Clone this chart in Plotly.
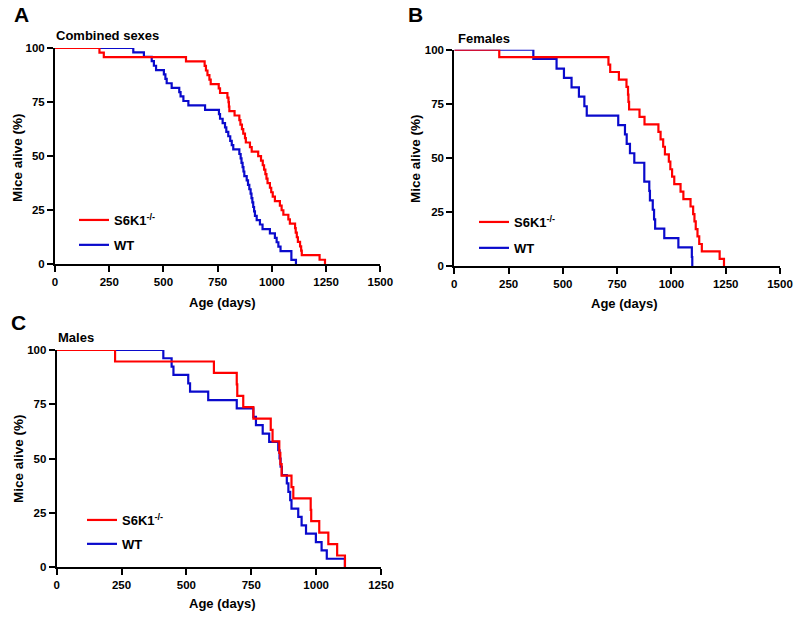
import plotly.graph_objects as go

# ---------------- data (age in days, % alive after each step) ----------------
comb_ko_age = [0, 205, 225, 604, 690, 696, 703, 712, 718, 755, 761, 795, 800, 802, 804, 828,
               850, 855, 862, 868, 876, 880, 899, 907, 937, 950, 958, 964, 970, 975, 980,
               991, 997, 1004, 1014, 1037, 1045, 1053, 1076, 1083, 1107, 1110, 1115, 1120,
               1130, 1135, 1138, 1220, 1245]
comb_ko_pct = [100, 97.9, 95.8, 93.8, 91.7, 89.6, 87.5, 85.4, 83.3, 81.3, 79.2, 77.1, 75.0,
               72.9, 70.8, 68.8, 66.7, 64.6, 62.5, 60.4, 58.3, 56.3, 54.2, 52.1, 50.0, 47.9,
               45.8, 43.8, 41.7, 39.6, 37.5, 35.4, 33.3, 31.3, 29.2, 27.1, 25.0, 22.9, 20.8,
               18.8, 16.7, 14.6, 12.5, 10.4, 8.3, 6.3, 4.2, 2.1, 0]
comb_wt_age = [0, 361, 410, 446, 456, 466, 502, 509, 515, 538, 573, 579, 592, 615, 692, 756,
               761, 773, 784, 790, 799, 808, 815, 822, 850, 856, 860, 865, 869, 873, 884,
               890, 896, 902, 906, 910, 914, 918, 922, 930, 945, 957, 991, 1014, 1022, 1030,
               1040, 1090, 1090, 1111]
comb_wt_pct = [100, 98.0, 95.9, 93.9, 91.8, 89.8, 87.8, 85.7, 83.7, 81.6, 79.6, 77.6, 75.5,
               73.5, 71.4, 69.4, 67.3, 65.3, 63.3, 61.2, 59.2, 57.1, 55.1, 53.1, 51.0, 49.0,
               46.9, 44.9, 42.9, 40.8, 38.8, 36.7, 34.7, 32.7, 30.6, 28.6, 26.5, 24.5, 22.4,
               20.4, 18.4, 16.3, 14.3, 12.2, 10.2, 8.2, 6.1, 4.1, 2.0, 0]

fem_ko_age = [0, 207, 710, 718, 758, 793, 800, 802, 805, 853, 876, 940, 950, 962, 970, 988,
              995, 1003, 1013, 1042, 1055, 1088, 1100, 1106, 1112, 1120, 1128, 1140, 1222, 1242]
fem_ko_pct = [100, 96.6, 93.1, 89.7, 86.2, 82.8, 79.3, 75.9, 72.4, 69.0, 65.5, 62.1, 58.6,
              55.2, 51.7, 48.3, 44.8, 41.4, 37.9, 34.5, 31.0, 27.6, 24.1, 20.7, 17.2, 13.8,
              10.3, 6.9, 3.4, 0]
fem_wt_age = [0, 364, 471, 505, 540, 574, 599, 610, 755, 786, 794, 809, 829, 875, 875, 898,
              901, 914, 920, 925, 967, 1032, 1094, 1096]
fem_wt_pct = [100, 95.7, 91.3, 87.0, 82.6, 78.3, 73.9, 69.6, 65.2, 60.9, 56.5, 52.2, 47.8,
              43.5, 39.1, 34.8, 30.4, 26.1, 21.7, 17.4, 13.0, 8.7, 4.3, 0]

male_ko_age = [0, 225, 606, 694, 696, 719, 758, 825, 832, 858, 862, 867, 905, 912, 979, 981,
               1012, 1047, 1081, 1111]
male_ko_pct = [100, 94.7, 89.5, 84.2, 78.9, 73.7, 68.4, 63.2, 57.9, 52.6, 47.4, 42.1, 36.8,
               31.6, 26.3, 21.1, 15.8, 10.5, 5.3, 0]
male_wt_age = [0, 411, 443, 450, 507, 514, 584, 694, 758, 768, 794, 819, 854, 859, 863, 868,
               887, 893, 900, 905, 931, 944, 961, 999, 1021, 1041, 1111]
male_wt_pct = [100, 96.2, 92.3, 88.5, 84.6, 80.8, 76.9, 73.1, 69.2, 65.4, 61.5, 57.7, 53.8,
               50.0, 46.2, 42.3, 38.5, 34.6, 30.8, 26.9, 23.1, 19.2, 15.4, 11.5, 7.7, 3.8, 0]

panel_titles = ["Combined sexes", "Females", "Males"]
panel_letters = ["A", "B", "C"]
series_names = ["S6K1<sup>-/-</sup>", "WT"]
y_ticks = [0, 25, 50, 75, 100]
x_ticks_ab = [0, 250, 500, 750, 1000, 1250, 1500]
x_ticks_c = [0, 250, 500, 750, 1000, 1250]

RED = "#FF0000"
BLUE = "#0A0ACC"
FONT = "Liberation Sans, Arial, sans-serif"
W, H = 800, 618


def px(x):
    return x / W


def py(y):
    return 1 - y / H


fig = go.Figure()

# panel pixel boxes: (left, right, top, bottom)
boxes = [(55, 380.3, 48, 264.3), (454.3, 780, 49.7, 266.3), (56.7, 381, 350, 567)]
datasets = [
    (comb_ko_age, comb_ko_pct, comb_wt_age, comb_wt_pct),
    (fem_ko_age, fem_ko_pct, fem_wt_age, fem_wt_pct),
    (male_ko_age, male_ko_pct, male_wt_age, male_wt_pct),
]
xranges = [[0, 1500], [0, 1500], [0, 1250]]
xtickss = [x_ticks_ab, x_ticks_ab, x_ticks_c]
legend_pos = [(74, 205), (474, 207), (82, 505)]
legend_gaps = [5, 6, 4]

for i, (box, data) in enumerate(zip(boxes, datasets)):
    l, r, t, b = box
    suffix = "" if i == 0 else str(i + 1)
    xa, ya = "x" + suffix, "y" + suffix
    leg = "legend" if i == 0 else "legend" + str(i + 1)
    ko_a, ko_p, wt_a, wt_p = data
    fig.add_trace(go.Scatter(x=wt_a, y=wt_p, mode="lines", line=dict(color=BLUE, width=2.2, shape="hv"),
                             name=series_names[1], xaxis=xa, yaxis=ya, legend=leg,
                             legendgroup="wt" + suffix, legendrank=2))
    fig.add_trace(go.Scatter(x=ko_a, y=ko_p, mode="lines", line=dict(color=RED, width=2.2, shape="hv"),
                             name=series_names[0], xaxis=xa, yaxis=ya, legend=leg,
                             legendgroup="ko" + suffix, legendrank=1))
    axis_common = dict(showline=True, linecolor="black", linewidth=2, ticks="outside",
                       ticklen=6, tickwidth=2, tickcolor="black", showgrid=False, zeroline=False,
                       automargin=False,
                       tickfont=dict(family=FONT, size=11.5, color="black", weight="bold"))
    fig.update_layout(**{
        "xaxis" + suffix: dict(domain=[px(l), px(r)], range=xranges[i], tickvals=xtickss[i],
                               anchor=ya, **axis_common),
        "yaxis" + suffix: dict(domain=[py(b), py(t)], range=[0, 100], tickvals=y_ticks,
                               anchor=xa, **axis_common),
        leg: dict(x=px(legend_pos[i][0]), y=py(legend_pos[i][1]), xanchor="left", yanchor="top",
                  bgcolor="rgba(0,0,0,0)", tracegroupgap=legend_gaps[i], traceorder="grouped",
                  font=dict(family=FONT, size=13, color="black", weight="bold")),
    })

annotations = []
# panel letters
for letter, (x, y) in zip(panel_letters, [(21, 15), (415, 15), (18, 322)]):
    annotations.append(dict(text=letter, x=px(x), y=py(y), xref="paper", yref="paper",
                            showarrow=False, xanchor="center", yanchor="middle",
                            font=dict(family=FONT, size=21, color="black", weight="bold")))
# panel titles
for title, (x, y) in zip(panel_titles, [(54, 36), (456, 38), (56, 337)]):
    annotations.append(dict(text=title, x=px(x), y=py(y), xref="paper", yref="paper",
                            showarrow=False, xanchor="left", yanchor="middle",
                            font=dict(family=FONT, size=13, color="black", weight="bold")))
# x axis titles
for (x, y) in [(222, 302), (624, 303), (222, 603)]:
    annotations.append(dict(text="Age (days)", x=px(x), y=py(y), xref="paper", yref="paper",
                            showarrow=False, xanchor="center", yanchor="middle",
                            font=dict(family=FONT, size=13, color="black", weight="bold")))
# y axis titles
for (x, y) in [(18, 158), (415, 159), (18, 459)]:
    annotations.append(dict(text="Mice alive (%)", x=px(x), y=py(y), xref="paper", yref="paper",
                            showarrow=False, xanchor="center", yanchor="middle", textangle=-90,
                            font=dict(family=FONT, size=13.5, color="black", weight="bold")))

fig.update_layout(width=W, height=H, margin=dict(l=0, r=0, t=0, b=0),
                  paper_bgcolor="white", plot_bgcolor="white", annotations=annotations,
                  font=dict(family=FONT, color="black"))

fig.write_html("out.html", config={"displayModeBar": False},
               post_script="document.body.style.margin='0px';document.body.style.padding='0px';")
